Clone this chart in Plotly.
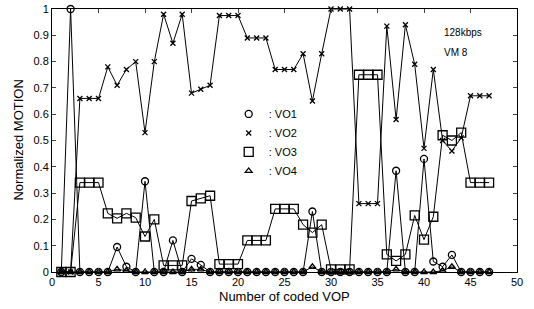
import plotly.graph_objects as go

vop = list(range(1, 48))

vo1 = [0, 1, 0, 0, 0, 0, 0.095, 0.02, 0, 0.345,
       0, 0, 0.12, 0, 0.05, 0.027, 0, 0, 0, 0,
       0, 0, 0, 0, 0, 0, 0, 0.23, 0, 0,
       0, 0, 0, 0, 0, 0, 0.385, 0, 0, 0.43,
       0.04, 0.02, 0.065, 0, 0, 0, 0]

vo2 = [0, 0, 0.66, 0.66, 0.66, 0.78, 0.71, 0.77, 0.80, 0.53,
       0.80, 0.98, 0.87, 0.98, 0.68, 0.695, 0.71, 0.975, 0.975, 0.975,
       0.89, 0.89, 0.89, 0.77, 0.77, 0.77, 0.83, 0.65, 0.83, 1.0,
       1.0, 1.0, 0.26, 0.26, 0.26, 0.935, 0.58, 0.94, 0.79, 0.47,
       0.77, 0.50, 0.46, 0.51, 0.67, 0.67, 0.67]

vo3 = [0, 0, 0.34, 0.34, 0.34, 0.223, 0.204, 0.223, 0.207, 0.135,
       0.20, 0.025, 0.025, 0.025, 0.27, 0.28, 0.29, 0.03, 0.03, 0.03,
       0.12, 0.12, 0.12, 0.24, 0.24, 0.24, 0.18, 0.15, 0.18, 0.01,
       0.01, 0.01, 0.75, 0.75, 0.75, 0.067, 0.042, 0.067, 0.215, 0.123,
       0.21, 0.52, 0.50, 0.53, 0.34, 0.34, 0.34]

vo4 = [0, 0, 0, 0, 0, 0, 0.01, 0.005, 0, 0,
       0, 0, 0, 0, 0.01, 0.01, 0, 0, 0, 0,
       0, 0, 0, 0, 0, 0, 0, 0.02, 0, 0,
       0, 0, 0, 0, 0, 0, 0.01, 0, 0, 0,
       0, 0.005, 0.02, 0, 0, 0, 0]

series = [
    (": VO1", vo1, "circle-open", 7),
    (": VO2", vo2, "x-thin-open", 5),
    (": VO3", vo3, "square-open", 9),
    (": VO4", vo4, "triangle-up-open", 6),
]

x_ticks = list(range(0, 51, 5))
y_ticks = [round(0.1 * i, 1) for i in range(11)]
y_ticktext = ["0", "0.1", "0.2", "0.3", "0.4", "0.5", "0.6", "0.7", "0.8", "0.9", "1"]

fig = go.Figure()

for name, vals, sym, size in series:
    fig.add_trace(go.Scatter(
        x=vop, y=vals, mode="lines", showlegend=False,
        line=dict(color="black", width=1), cliponaxis=False, hoverinfo="skip"))

for name, vals, sym, size in series:
    fig.add_trace(go.Scatter(
        x=vop, y=vals, mode="markers", name=name,
        marker=dict(symbol=sym, size=size, color="black",
                    line=dict(color="black", width=1.3)),
        cliponaxis=False))

fig.update_layout(
    width=534, height=309,
    margin=dict(l=52, r=17, t=9, b=37, autoexpand=False),
    paper_bgcolor="white", plot_bgcolor="white",
    font=dict(family="Liberation Sans, Arial, sans-serif", size=11, color="black"),
    showlegend=True,
    legend=dict(x=0.38, y=0.656, xanchor="left", yanchor="top",
                bgcolor="rgba(0,0,0,0)", font=dict(size=11),
                itemwidth=30, tracegroupgap=0),
    xaxis=dict(range=[0, 50], tickvals=x_ticks, ticks="inside", ticklen=4,
               showline=True, linecolor="black", linewidth=1, mirror="ticks",
               showgrid=False, zeroline=False, automargin=False),
    yaxis=dict(range=[0, 1], tickvals=y_ticks, ticktext=y_ticktext,
               ticks="inside", ticklen=4,
               showline=True, linecolor="black", linewidth=1, mirror="ticks",
               showgrid=False, zeroline=False, automargin=False),
    annotations=[
        dict(text="Number of coded VOP", xref="paper", yref="paper", x=0.5, y=-0.092,
             xanchor="center", yanchor="middle", showarrow=False, font=dict(size=13)),
        dict(text="Normalized MOTION", xref="paper", yref="paper", x=-0.073, y=0.5,
             xanchor="center", yanchor="middle", textangle=-90, showarrow=False,
             font=dict(size=13)),
        dict(text="128kbps", xref="paper", yref="paper", x=0.838, y=0.91,
             xanchor="left", yanchor="middle", showarrow=False, font=dict(size=10)),
        dict(text="VM 8", xref="paper", yref="paper", x=0.838, y=0.835,
             xanchor="left", yanchor="middle", showarrow=False, font=dict(size=10)),
    ],
)

fig.write_html("out.html", config={"displayModeBar": False},
               post_script="document.body.style.margin='0';")
